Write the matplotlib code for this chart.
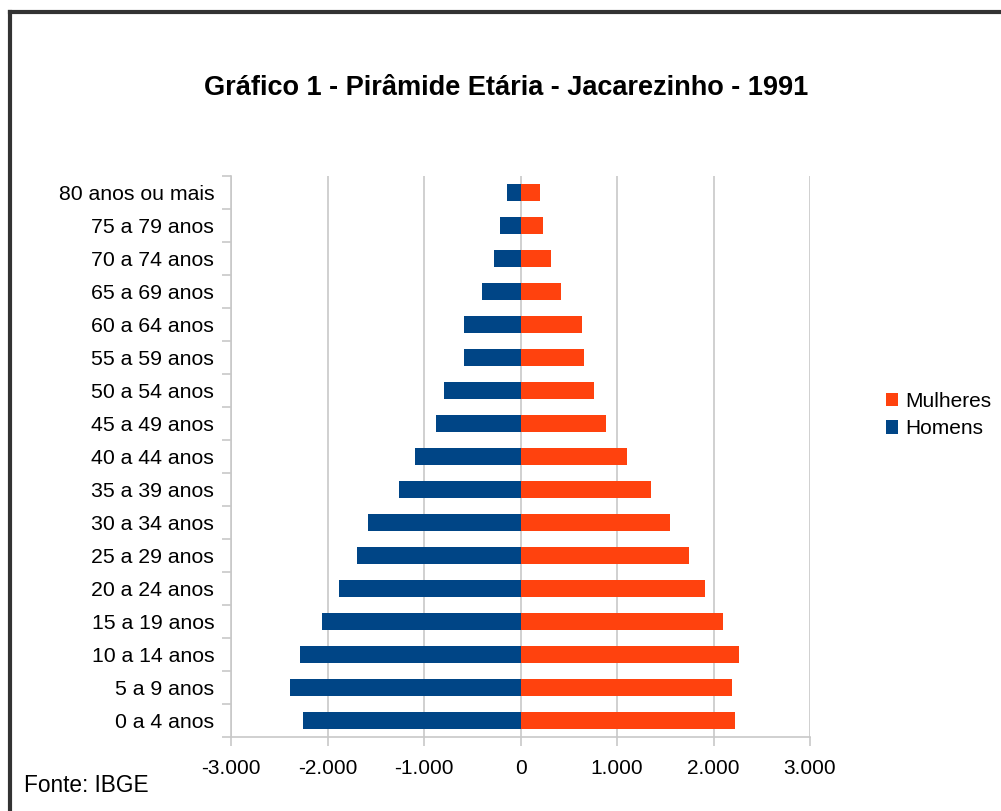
import matplotlib.pyplot as plt
from matplotlib.lines import Line2D
from matplotlib.ticker import FuncFormatter, FixedLocator

# Age groups, from youngest to oldest (bottom to top)
faixas = ['0 a 4 anos', '5 a 9 anos', '10 a 14 anos', '15 a 19 anos', '20 a 24 anos',
          '25 a 29 anos', '30 a 34 anos', '35 a 39 anos', '40 a 44 anos', '45 a 49 anos',
          '50 a 54 anos', '55 a 59 anos', '60 a 64 anos', '65 a 69 anos', '70 a 74 anos',
          '75 a 79 anos', '80 anos ou mais']
homens = [2259, 2393, 2290, 2062, 1886, 1690, 1576, 1255, 1090, 873,
          790, 584, 584, 398, 274, 212, 140]
mulheres = [2219, 2188, 2261, 2095, 1909, 1744, 1547, 1351, 1102, 885,
            761, 657, 636, 419, 315, 233, 202]

azul = '#004586'
laranja = '#ff420e'
cinza = '#c8c8c8'

plt.rcParams['font.family'] = ['Liberation Sans', 'DejaVu Sans']

fig = plt.figure(figsize=(10.01, 8.11), dpi=100)
ax = fig.add_axes([231 / 1001, 1 - 737 / 811, 579 / 1001, 561 / 811])

pos = range(len(faixas))
ax.barh(pos, mulheres, height=0.52, color=laranja, label='Mulheres', zorder=3)
ax.barh(pos, [-h for h in homens], height=0.52, color=azul, label='Homens', zorder=3)

ax.set_xlim(-3000, 3000)
ax.set_ylim(-0.5, len(faixas) - 0.5)
ax.set_xticks(range(-3000, 3001, 1000))
ax.xaxis.set_major_formatter(FuncFormatter(lambda v, p: f"{int(v):,}".replace(',', '.')))
ax.grid(axis='x', color=cinza, linewidth=1.2, zorder=0)

ax.set_yticks(list(pos))
ax.set_yticklabels(faixas)
ax.yaxis.set_minor_locator(FixedLocator([i - 0.5 for i in range(len(faixas) + 1)]))
ax.tick_params(axis='y', which='major', length=0, pad=12, labelsize=15.3)
ax.tick_params(axis='y', which='minor', length=6.5, color=cinza, width=1.2)
ax.tick_params(axis='x', length=6.5, color=cinza, width=1.2, labelsize=15, pad=9)

for s in ['top', 'right']:
    ax.spines[s].set_visible(False)
for s in ['left', 'bottom']:
    ax.spines[s].set_color(cinza)
    ax.spines[s].set_linewidth(1.2)

fig.suptitle('Gráfico 1 - Pirâmide Etária - Jacarezinho - 1991', x=0.506, y=0.907,
             fontsize=19.5, fontweight='bold')

ax.legend(loc='center left', bbox_to_anchor=(0.8745, 0.488), bbox_transform=fig.transFigure,
          frameon=False, fontsize=15, handlelength=0.6, handleheight=0.6,
          handletextpad=0.35, labelspacing=0.4, borderpad=0)

fig.text(24 / 1001, 1 - 786 / 811, 'Fonte: IBGE', fontsize=16.3, va='center', ha='left')

# outer frame: only top and left edges show in the original
fig.add_artist(Line2D([9.5 / 1001, 1.0], [1 - 11.5 / 811] * 2, transform=fig.transFigure,
                      color='#333333', linewidth=3))
fig.add_artist(Line2D([9.5 / 1001] * 2, [0, 1 - 11.5 / 811], transform=fig.transFigure,
                      color='#333333', linewidth=3))

fig.savefig('out.png', dpi=100)
